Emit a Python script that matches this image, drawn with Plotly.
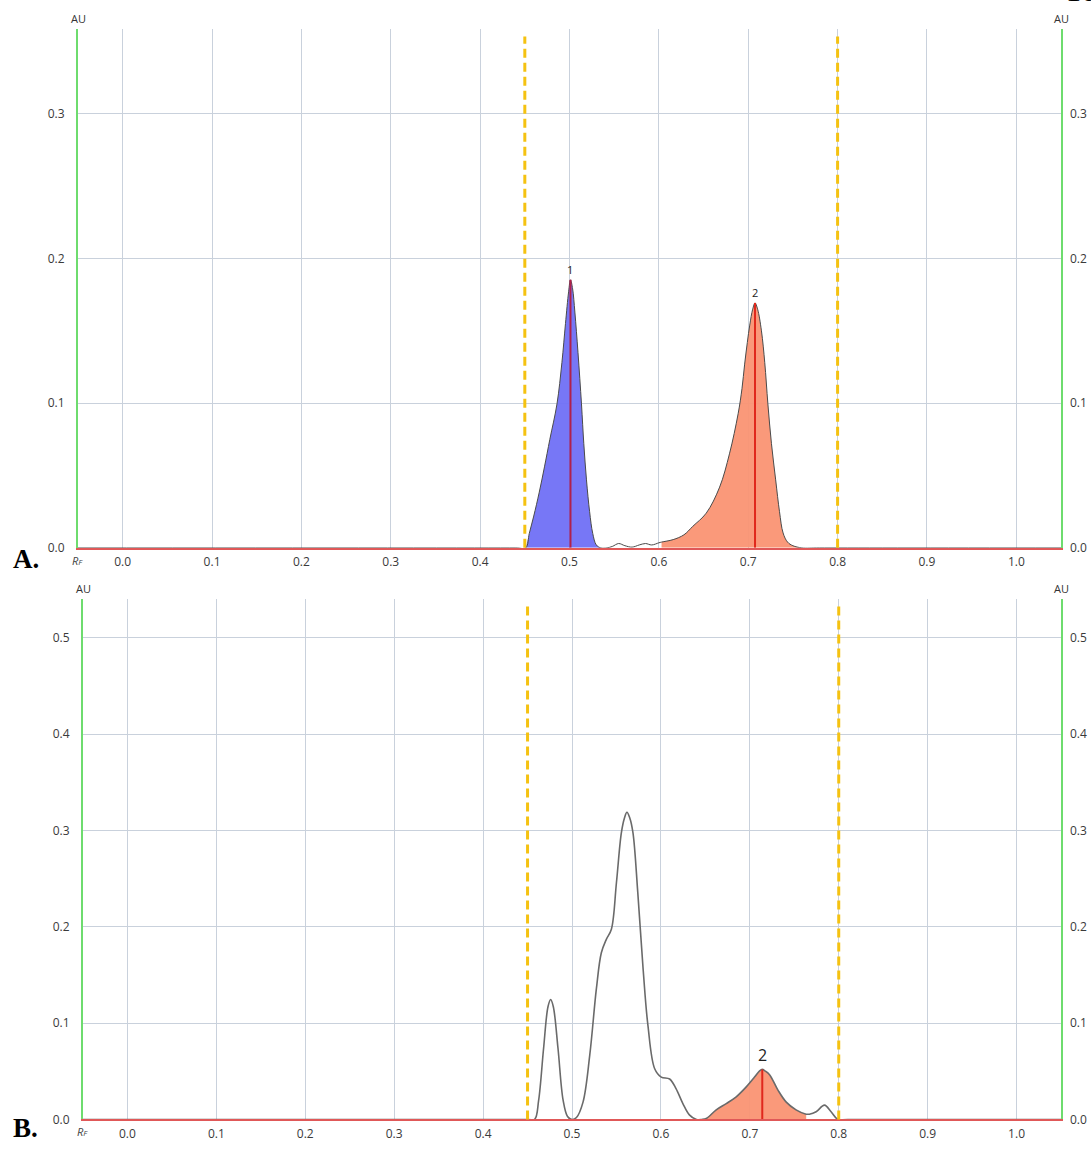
import numpy as np
import plotly.graph_objects as go

# ---- Densitogram A (reference track) ----
rf_a = [-0.05, 0.44, 0.451, 0.455, 0.46, 0.466, 0.472, 0.478, 0.486, 0.4915,
        0.4955, 0.499, 0.5011, 0.5035, 0.506, 0.5095, 0.5134, 0.516, 0.519, 0.5225,
        0.526, 0.53, 0.535, 0.542, 0.548, 0.555, 0.562, 0.57, 0.578, 0.585,
        0.592, 0.6, 0.603, 0.616, 0.628, 0.638, 0.653, 0.668, 0.679, 0.6887,
        0.693, 0.696, 0.699, 0.7017, 0.705, 0.7076, 0.7105, 0.7148, 0.7185, 0.722,
        0.726, 0.7307, 0.735, 0.739, 0.744, 0.75, 0.76, 0.78, 1.05]
au_a = [0.0, 0.0, 0.0, 0.010, 0.022, 0.038, 0.056, 0.075, 0.0995, 0.128,
        0.155, 0.177, 0.1853, 0.179, 0.163, 0.135, 0.0995, 0.072, 0.047, 0.025,
        0.010, 0.002, 0.0, 0.0, 0.001, 0.003, 0.0015, 0.0005, 0.002, 0.003,
        0.002, 0.0035, 0.004, 0.0057, 0.009, 0.0149, 0.024, 0.042, 0.065, 0.0927,
        0.110, 0.127, 0.142, 0.154, 0.165, 0.1693, 0.165, 0.150, 0.128, 0.0995,
        0.072, 0.047, 0.025, 0.0103, 0.004, 0.0015, 0.0, 0.0, 0.0]

# integrated peaks of track A: (label, start Rf, apex Rf, end Rf, fill colour, marker colour)
peaks_a = [("1", 0.451, 0.5011, 0.535, "rgba(112,112,245,0.95)", "#b0204a"),
           ("2", 0.603, 0.7076, 0.76, "rgba(250,148,115,0.95)", "#e0281c")]

# ---- Densitogram B (sample track) ----
rf_b = [-0.05, 0.45, 0.458, 0.4625, 0.468, 0.473, 0.476, 0.479, 0.4843, 0.49,
        0.495, 0.5, 0.505, 0.5124, 0.52, 0.5274, 0.533, 0.5386, 0.5443, 0.55,
        0.5555, 0.559, 0.5618, 0.565, 0.5686, 0.574, 0.58, 0.5854, 0.593, 0.6004,
        0.6098, 0.617, 0.6247, 0.632, 0.64, 0.646, 0.651, 0.6622, 0.6735, 0.6847,
        0.696, 0.7053, 0.711, 0.714, 0.717, 0.7222, 0.7315, 0.741, 0.752, 0.7634,
        0.767, 0.7746, 0.784, 0.7914, 0.799, 0.81, 1.05]
au_b = [0.0, 0.0, 0.0, 0.02, 0.0734, 0.117, 0.1245, 0.117, 0.0734, 0.02,
        0.003, 0.0, 0.002, 0.018, 0.067, 0.1355, 0.173, 0.187, 0.1975, 0.246,
        0.2975, 0.313, 0.319, 0.313, 0.2975, 0.2355, 0.156, 0.0976, 0.0527, 0.044,
        0.042, 0.032, 0.0165, 0.0048, 0.0, 0.0, 0.001, 0.010, 0.0165, 0.0235,
        0.0338, 0.044, 0.0505, 0.052, 0.0505, 0.0465, 0.0307, 0.018, 0.010, 0.0055,
        0.0055, 0.008, 0.0149, 0.008, 0.0, 0.0, 0.0]

peaks_b = [("2", 0.651, 0.714, 0.7634, "rgba(250,148,115,0.95)", "#e0281c")]

# integration window (dashed yellow limits)
window = [0.45, 0.8]

x_ticks = [0.0, 0.1, 0.2, 0.3, 0.4, 0.5, 0.6, 0.7, 0.8, 0.9, 1.0]
y_ticks_a = [0.0, 0.1, 0.2, 0.3]
y_ticks_b = [0.0, 0.1, 0.2, 0.3, 0.4, 0.5]

W, H = 1091, 1151
GRID = "#c9d1dc"
GREEN = "#6edc6e"
RED = "#e05858"
GOLD = "#f5c211"
FONT = "Open Sans"
SMOOTH = 1.0

fig = go.Figure()


def add_track(rf, au, peaks, xa, ya, outline, outline_w, label_size):
    rf = np.array(rf)
    au = np.array(au)
    for name, lo, apex, hi, fill, mark in peaks:
        m = (rf >= lo) & (rf <= hi)
        fig.add_trace(go.Scatter(x=rf[m], y=au[m], mode="lines", fill="tozeroy",
                                 fillcolor=fill,
                                 line=dict(width=0, shape="spline", smoothing=SMOOTH),
                                 xaxis=xa, yaxis=ya, hoverinfo="skip", showlegend=False))
    fig.add_trace(go.Scatter(x=rf, y=au, mode="lines",
                             line=dict(color=outline, width=outline_w, shape="spline",
                                       smoothing=SMOOTH),
                             xaxis=xa, yaxis=ya, showlegend=False))
    for name, lo, apex, hi, fill, mark in peaks:
        h = float(np.interp(apex, rf, au))
        fig.add_trace(go.Scatter(x=[apex, apex], y=[0, h], mode="lines",
                                 line=dict(color=mark, width=2),
                                 xaxis=xa, yaxis=ya, hoverinfo="skip", showlegend=False))
        fig.add_annotation(x=apex, y=h, xref=xa, yref=ya, text=name, showarrow=False,
                           yanchor="bottom", yshift=1,
                           font=dict(family=FONT, size=label_size, color="#222"))
    for w in window:
        fig.add_shape(type="line", x0=w, x1=w, y0=0, y1=0.985, xref=xa,
                      yref=ya + " domain",
                      line=dict(color=GOLD, width=3, dash="9px,5px"))


add_track(rf_a, au_a, peaks_a, "x", "y", "#4a4a4a", 1, 11)
add_track(rf_b, au_b, peaks_b, "x2", "y3", "#6a6a6a", 1.6, 16)

# panel geometry in pixels
A_left, A_right, A_top, A_bot = 78, 1061, 29, 551.7
B_left, B_right, B_top, B_bot = 83, 1061, 603, 1127.3

tickfont = dict(family=FONT, size=12, color="#3a3a3a")
xcommon = dict(range=[-0.05, 1.05], tickvals=x_ticks, tickformat=".1f", showgrid=True,
               gridcolor=GRID, gridwidth=1, zeroline=False, showline=True, linecolor=RED,
               linewidth=2, ticks="", ticklabelstandoff=2, tickfont=tickfont)
ycommon = dict(zeroline=False, ticks="", tickformat=".1f", tickfont=tickfont)

fig.update_layout(
    width=W, height=H, margin=dict(l=0, r=0, t=0, b=0),
    paper_bgcolor="white", plot_bgcolor="white", showlegend=False,
    xaxis=dict(domain=[A_left / W, A_right / W], anchor="y", **xcommon),
    yaxis=dict(domain=[1 - A_bot / H, 1 - A_top / H], anchor="x", range=[0, 0.3588],
               tickvals=y_ticks_a, showgrid=True, gridcolor=GRID, showline=True,
               linecolor=GREEN, linewidth=2, mirror=True, ticklabelstandoff=9, **ycommon),
    yaxis2=dict(overlaying="y", side="right", anchor="x", range=[0, 0.3588],
                tickvals=y_ticks_a, showgrid=False, showline=False,
                ticklabelstandoff=8, **ycommon),
    xaxis2=dict(domain=[B_left / W, B_right / W], anchor="y3", **xcommon),
    yaxis3=dict(domain=[1 - B_bot / H, 1 - B_top / H], anchor="x2", range=[0, 0.5405],
                tickvals=y_ticks_b, showgrid=True, gridcolor=GRID, showline=True,
                linecolor=GREEN, linewidth=2, mirror=True, ticklabelstandoff=9, **ycommon),
    yaxis4=dict(overlaying="y3", side="right", anchor="x2", range=[0, 0.5405],
                tickvals=y_ticks_b, showgrid=False, showline=False,
                ticklabelstandoff=8, **ycommon),
)

# empty traces so the right-hand axes render
fig.add_trace(go.Scatter(x=[None], y=[None], xaxis="x", yaxis="y2", showlegend=False))
fig.add_trace(go.Scatter(x=[None], y=[None], xaxis="x2", yaxis="y4", showlegend=False))


def paper_note(px, py, text, size, family=FONT, xanchor="center", bold=False, color="#333"):
    fig.add_annotation(x=px / W, y=1 - py / H, xref="paper", yref="paper", text=text,
                       showarrow=False, xanchor=xanchor, yanchor="middle",
                       font=dict(family=family, size=size, color=color,
                                 weight="bold" if bold else "normal"))


# axis unit captions
for (lx, rx, ty) in [(A_left, A_right, 19), (B_left, B_right, 593)]:
    paper_note(lx, ty, "AU", 11)
    paper_note(rx, ty, "AU", 11)
paper_note(A_left - 1, 564, "<i>R<span style='font-size:8px'>F</span></i>", 11, color="#444")
paper_note(B_left - 1, 1139, "<i>R<span style='font-size:8px'>F</span></i>", 11, color="#444")

# panel letters
paper_note(11, 563, "A.", 27, family="Liberation Serif", xanchor="left", bold=True, color="#000")
paper_note(11, 1136, "B.", 27, family="Liberation Serif", xanchor="left", bold=True, color="#000")

# page number running off the top edge
fig.add_annotation(x=1064 / W, y=1 + 10 / H, xref="paper", yref="paper", text="10",
                   showarrow=False, xanchor="left", yanchor="middle",
                   font=dict(family="Liberation Serif", size=30, color="#000"))

fig.write_html("out.html")
